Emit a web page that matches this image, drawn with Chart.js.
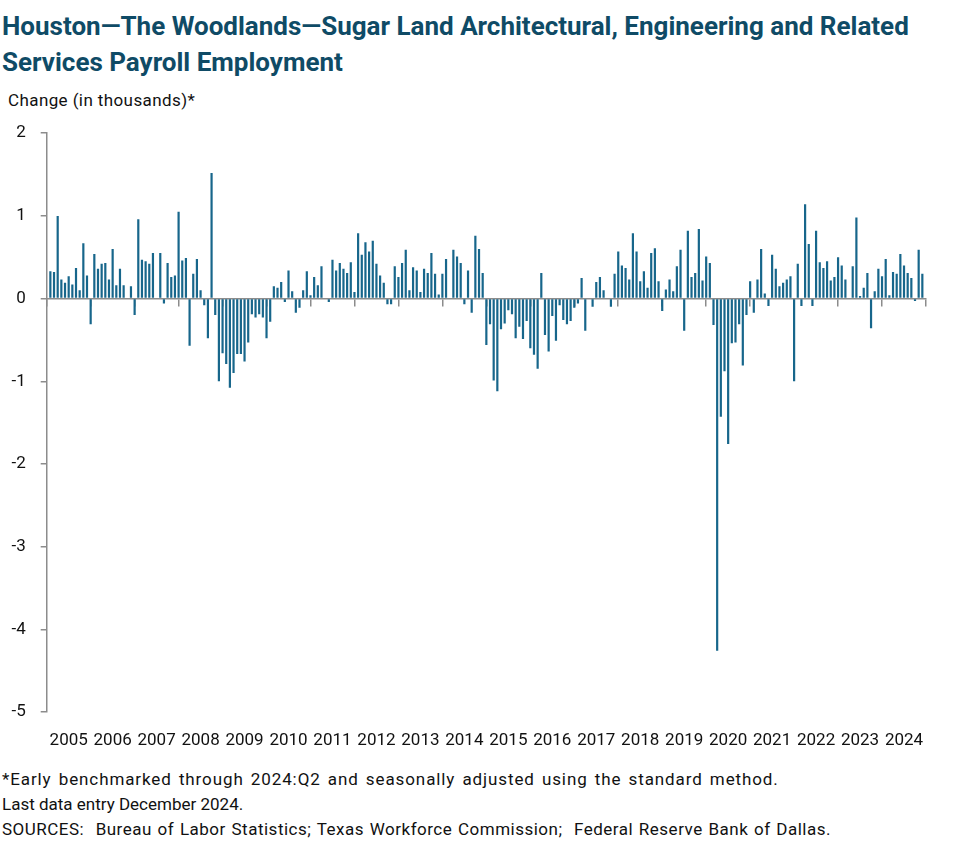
<!DOCTYPE html>
<html>
<head>
<meta charset="utf-8">
<script src="https://cdn.jsdelivr.net/npm/chart.js@4.4.1/dist/chart.umd.min.js"></script>
<style>
  html, body { margin: 0; padding: 0; background: #fff; }
  body { width: 977px; height: 864px; position: relative; overflow: hidden; font-family: Roboto, sans-serif; color: #111; }
  #title { position: absolute; left: 2px; top: 8px; font-size: 26px; font-weight: 700; line-height: 36px; color: #0f4b66; }
  #unit { position: absolute; left: 8px; top: 90px; font-size: 17px; letter-spacing: 0.4px; }
  #wrap { position: absolute; left: 0; top: 108px; width: 977px; height: 647px; }
  #notes { position: absolute; left: 2px; top: 767px; font-size: 17px; line-height: 25px; }
  #notes div { white-space: nowrap; }
</style>
</head>
<body>
<div id="title">Houston—The Woodlands—Sugar Land Architectural, Engineering and Related<br>Services Payroll Employment</div>
<div id="unit">Change (in thousands)*</div>
<div id="wrap"><canvas id="payrollChart"></canvas></div>
<div id="notes">
  <div style="letter-spacing: 0.9px; word-spacing: 2px;">*Early benchmarked through 2024:Q2 and seasonally adjusted using the standard method.</div>
  <div>Last data entry December 2024.</div>
  <div style="letter-spacing: 0.5px; word-spacing: 1px;">SOURCES:&nbsp; Bureau of Labor Statistics; Texas Workforce Commission;&nbsp; Federal Reserve Bank of Dallas.</div>
</div>
<script>
// Años del eje X (12 meses por año, enero a diciembre)
const years = [2005, 2006, 2007, 2008, 2009, 2010, 2011, 2012, 2013, 2014,
               2015, 2016, 2017, 2018, 2019, 2020, 2021, 2022, 2023, 2024];

// Cambio mensual del empleo (miles), una fila por año
const monthlyChange = [
  null, 0.33, 0.32, 1.00, 0.23, 0.19, 0.27, 0.17, 0.37, 0.10, 0.67, 0.28,     // 2005
  -0.31, 0.54, 0.36, 0.42, 0.43, 0.23, 0.60, 0.16, 0.36, 0.16, 0.00, 0.15,    // 2006
  -0.20, 0.96, 0.47, 0.45, 0.42, 0.55, 0.00, 0.55, -0.06, 0.43, 0.26, 0.28,   // 2007
  1.05, 0.46, 0.49, -0.57, 0.30, 0.48, 0.10, -0.08, -0.48, 1.52, -0.20, -1.00, // 2008
  -0.66, -0.79, -1.08, -0.90, -0.67, -0.67, -0.76, -0.53, -0.19, -0.23, -0.19, -0.23, // 2009
  -0.48, -0.28, 0.15, 0.13, 0.20, -0.04, 0.34, 0.09, -0.17, -0.11, 0.10, 0.33, // 2010
  0.04, 0.26, 0.16, 0.39, 0.00, -0.04, 0.47, 0.34, 0.43, 0.36, 0.31, 0.44,    // 2011
  0.08, 0.79, 0.53, 0.68, 0.57, 0.70, 0.42, 0.28, 0.19, -0.07, -0.07, 0.39,   // 2012
  0.26, 0.43, 0.59, 0.10, 0.38, 0.34, 0.08, 0.36, 0.31, 0.55, 0.30, 0.05,     // 2013
  0.30, 0.48, 0.00, 0.59, 0.51, 0.43, -0.07, 0.34, -0.17, 0.76, 0.60, 0.31,   // 2014
  -0.56, -0.31, -0.99, -1.12, -0.37, -0.30, -0.14, -0.19, -0.48, -0.34, -0.49, -0.27, // 2015
  -0.60, -0.68, -0.85, 0.31, -0.44, -0.64, -0.21, -0.51, -0.08, -0.26, -0.31, -0.27,  // 2016
  -0.11, -0.06, 0.25, -0.39, 0.00, -0.10, 0.20, 0.26, 0.10, 0.00, -0.10, 0.30, // 2017
  0.57, 0.40, 0.37, 0.23, 0.79, 0.57, 0.21, 0.33, 0.13, 0.55, 0.61, 0.21,     // 2018
  -0.15, 0.11, 0.23, 0.09, 0.39, 0.59, -0.39, 0.82, 0.26, 0.31, 0.84, 0.22,   // 2019
  0.51, 0.43, -0.32, -4.26, -1.43, -0.88, -1.76, -0.54, -0.53, -0.31, -0.81, -0.20, // 2020
  0.21, -0.17, 0.23, 0.60, 0.06, -0.09, 0.53, 0.36, 0.15, 0.19, 0.23, 0.27,   // 2021
  -1.00, 0.42, -0.09, 1.14, 0.66, -0.09, 0.82, 0.44, 0.37, 0.45, 0.22, 0.26,  // 2022
  0.50, 0.40, 0.23, 0.00, 0.39, 0.98, 0.03, 0.13, 0.31, -0.36, 0.09, 0.36,    // 2023
  0.27, 0.48, 0.04, 0.32, 0.30, 0.54, 0.40, 0.31, 0.25, -0.03, 0.59, 0.30     // 2024
];

// Ticks del eje Y
const yTicks = [-5, -4, -3, -2, -1, 0, 1, 2];

const axisGray = '#8c8c8c';
Chart.defaults.font.family = 'Roboto, sans-serif';
Chart.defaults.color = '#111';

const ctx = document.getElementById('payrollChart').getContext('2d');
const payrollChart = new Chart(ctx, {
    type: 'bar',
    data: {
        datasets: [{
            label: 'Change',
            data: monthlyChange.map((v, i) => ({ x: i, y: v })),
            backgroundColor: '#17668b',
            barPercentage: 0.6,
            categoryPercentage: 1
        }]
    },
    options: {
        responsive: true,
        maintainAspectRatio: false,
        animation: false,
        layout: { padding: { left: 0, right: 51, top: 0, bottom: 0 } },
        plugins: {
            legend: { display: false },
            tooltip: { enabled: false }
        },
        scales: {
            x: {
                type: 'linear',
                min: 0,
                max: years.length * 12,
                offset: false,
                grid: { display: false, drawTicks: false, offset: false },
                border: { display: false },
                afterBuildTicks: (s) => { s.ticks = years.map((y, i) => ({ value: i * 12 + 6 })); },
                afterFit: (s) => { s.height = 43; },
                ticks: {
                    autoSkip: false,
                    maxRotation: 0,
                    minRotation: 0,
                    padding: 19,
                    font: { size: 17 },
                    callback: (v) => years[Math.round((v - 6) / 12)]
                }
            },
            x2: {
                axis: 'x',
                type: 'linear',
                position: { y: 0 },
                min: 0,
                max: years.length * 12,
                offset: false,
                z: 1,
                grid: { drawOnChartArea: false, drawTicks: true, tickLength: 7, color: axisGray, lineWidth: 1.5, offset: false },
                border: { display: true, color: axisGray, width: 1.5 },
                ticks: { display: false, stepSize: 12 }
            },
            y: {
                min: -5,
                max: 2,
                afterFit: (s) => { s.width = 46.7; },
                afterBuildTicks: (s) => { s.ticks = yTicks.map(v => ({ value: v })); },
                grid: { drawOnChartArea: false, drawTicks: true, tickLength: 6, color: axisGray, lineWidth: 1.5 },
                border: { display: true, color: axisGray, width: 1.5 },
                ticks: { padding: 15, font: { size: 17 } }
            }
        }
    }
});
</script>
</body>
</html>
